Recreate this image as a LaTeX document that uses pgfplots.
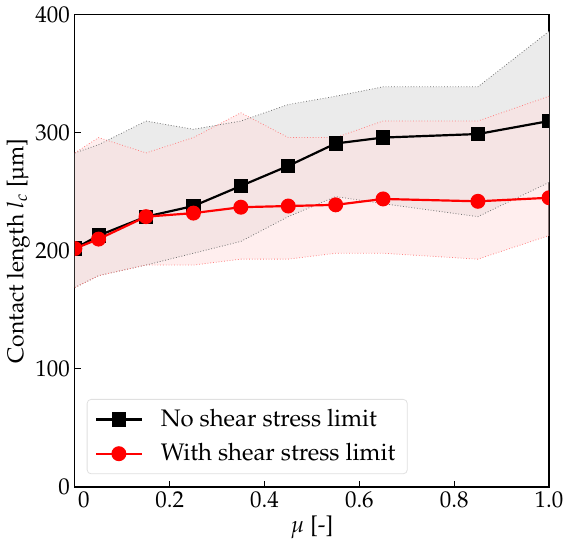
\documentclass[border=0pt]{standalone}
\usepackage[T1]{fontenc}
\usepackage{mathpazo}
\usepackage{textcomp}
\usepackage{pgfplots}
\pgfplotsset{compat=1.18}
\usepgfplotslibrary{fillbetween}

\definecolor{bandgray}{RGB}{235,235,235}
\definecolor{bandred}{RGB}{255,222,222}

\begin{document}
\begin{tikzpicture}
\begin{axis}[
  scale only axis,
  width=238pt, height=237pt,
  xmin=0, xmax=1, ymin=0, ymax=400,
  xtick={0,0.2,0.4,0.6,0.8,1.0},
  xticklabels={{\hspace*{9pt}0},0.2,0.4,0.6,0.8,1.0},
  ytick={0,100,200,300,400},
  tick align=inside,
  xtick pos=bottom, ytick pos=left,
  major tick length=3pt,
  axis line style={line width=0.6pt},
  tick style={line width=0.5pt, black},
  tick label style={font=\fontsize{11.5}{13}\selectfont},
  xticklabel style={yshift=1pt},
  yticklabel style={xshift=1pt},
  label style={font=\fontsize{11.5}{13}\selectfont},
  xlabel={$\mu$ [-]},
  ylabel={Contact length $l_c$ [\textmu m]},
  xlabel style={yshift=3pt},
  ylabel style={yshift=-4pt},
  clip marker paths=true,
  legend style={at={(0.025,0.027)}, anchor=south west, draw=black!12,
    rounded corners=2pt, fill=white, font=\large,
    inner xsep=4pt, inner ysep=3pt, row sep=3pt},
  legend cell align=left,
  legend image code/.code={
    \draw[mark repeat=2,mark phase=2] plot coordinates {(0cm,0cm)(0.4cm,0cm)(0.8cm,0cm)};
    \path (1.05cm,0cm);},
]
% no shear stress limit: band
\addplot[name path=bu, black!55, densely dotted, line width=0.4pt, forget plot] coordinates {
  (0,283)(0.05,290)(0.15,310)(0.25,303)(0.35,310)(0.45,324)(0.55,331)(0.65,339)(0.85,339)(1.0,386)};
\addplot[name path=bl, black!55, densely dotted, line width=0.4pt, forget plot] coordinates {
  (0,169)(0.05,179)(0.15,188)(0.25,198)(0.35,208)(0.45,229)(0.55,246)(0.65,240)(0.85,229)(1.0,258)};
\addplot[bandgray, forget plot] fill between[of=bu and bl];
% with shear stress limit: band
\addplot[name path=ru, red!50, densely dotted, line width=0.4pt, forget plot] coordinates {
  (0,283)(0.05,296)(0.15,283)(0.25,296)(0.35,317)(0.45,296)(0.55,296)(0.65,310)(0.85,310)(1.0,331)};
\addplot[name path=rl, red!50, densely dotted, line width=0.4pt, forget plot] coordinates {
  (0,169)(0.05,179)(0.15,188)(0.25,188)(0.35,193)(0.45,193)(0.55,198)(0.65,198)(0.85,193)(1.0,213)};
\addplot[bandred, fill opacity=0.5, forget plot] fill between[of=ru and rl];
% mean curves
\addplot[black, line width=1.1pt, mark=square*, mark size=3pt] coordinates {
  (0,202)(0.05,213)(0.15,229)(0.25,238)(0.35,255)(0.45,272)(0.55,291)(0.65,296)(0.85,299)(1.0,310)};
\addlegendentry{No shear stress limit}
\addplot[red, line width=1.1pt, mark=*, mark size=3.2pt] coordinates {
  (0,202)(0.05,210)(0.15,229)(0.25,232)(0.35,237)(0.45,238)(0.55,239)(0.65,244)(0.85,242)(1.0,245)};
\addlegendentry{With shear stress limit}
\end{axis}
\end{tikzpicture}
\end{document}
